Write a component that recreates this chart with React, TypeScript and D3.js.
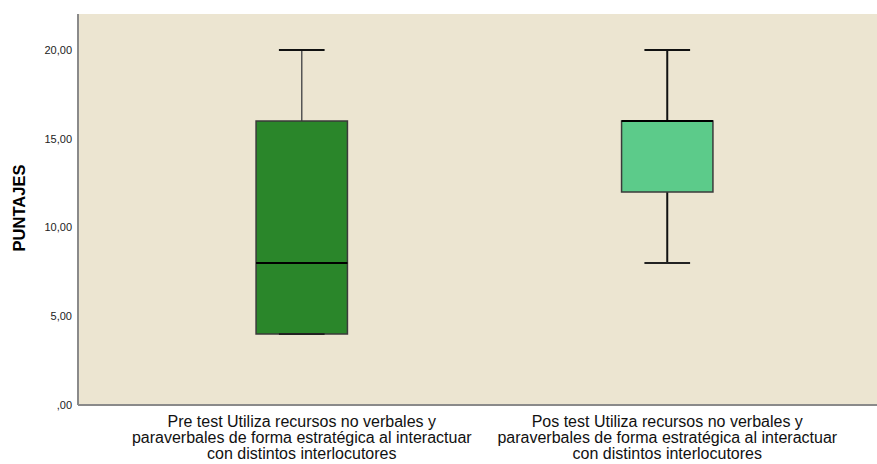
import React from 'react'
import * as d3 from 'd3'

// box plot stats
const categories = ['pre', 'pos']
const labels = [
  ['Pre test Utiliza recursos no verbales y', 'paraverbales de forma estratégica al interactuar', 'con distintos interlocutores'],
  ['Pos test Utiliza recursos no verbales y', 'paraverbales de forma estratégica al interactuar', 'con distintos interlocutores'],
]
const mins = [4, 8]
const q1s = [4, 12]
const medians = [8, 16]
const q3s = [16, 16]
const maxs = [20, 20]
const fills = ['#2a862a', '#5ccb8a']
const yTicks = [0, 5, 10, 15, 20]

const width = 877
const height = 464
const plot = { left: 78, top: 14, right: 877, bottom: 405 }

export default function App() {
  const y = d3.scaleLinear().domain([0, 20]).range([plot.bottom, 50])
  const x = d3.scaleBand().domain(categories).range([119, 850])
  const boxW = x.bandwidth() * 0.25
  const capW = boxW / 2
  const fmt = (v: number) => (v === 0 ? ',00' : d3.format('.2f')(v).replace('.', ','))

  return (
    <svg
      width={width}
      height={height}
      style={{ position: 'fixed', left: 0, top: 0, background: '#fff' }}
      fontFamily="'Liberation Sans', Arial, sans-serif"
    >
      <rect x={plot.left} y={plot.top} width={plot.right - plot.left} height={plot.bottom - plot.top} fill="#ece5d1" />
      <line x1={plot.left} x2={plot.left} y1={plot.top} y2={plot.bottom} stroke="#8a8a8a" strokeWidth={2} />
      <line x1={plot.left} x2={plot.right} y1={plot.bottom} y2={plot.bottom} stroke="#8a8a8a" strokeWidth={2} />

      {yTicks.map((t) => (
        <text key={t} x={72} y={y(t)} dy="0.35em" textAnchor="end" fontSize={11} fill="#222">
          {fmt(t)}
        </text>
      ))}
      <text
        transform={`translate(25,208) rotate(-90)`}
        textAnchor="middle"
        fontSize={16.5}
        fontWeight="bold"
        fill="#000"
      >
        PUNTAJES
      </text>

      {categories.map((c, i) => {
        const cx = (x(c) as number) + x.bandwidth() / 2
        const wStroke = i === 0 ? '#555' : '#111'
        return (
          <g key={c}>
            <line x1={cx} x2={cx} y1={y(maxs[i])} y2={y(q3s[i])} stroke={wStroke} strokeWidth={i === 0 ? 1.5 : 2} />
            <line x1={cx} x2={cx} y1={y(q1s[i])} y2={y(mins[i])} stroke={wStroke} strokeWidth={2} />
            <rect
              x={cx - boxW / 2}
              y={y(q3s[i])}
              width={boxW}
              height={y(q1s[i]) - y(q3s[i])}
              fill={fills[i]}
              stroke="#3a3a3a"
              strokeWidth={1.5}
            />
            <line x1={cx - boxW / 2} x2={cx + boxW / 2} y1={y(medians[i])} y2={y(medians[i])} stroke="#000" strokeWidth={2} />
            <line x1={cx - capW / 2} x2={cx + capW / 2} y1={y(maxs[i])} y2={y(maxs[i])} stroke="#111" strokeWidth={2} />
            <line x1={cx - capW / 2} x2={cx + capW / 2} y1={y(mins[i])} y2={y(mins[i])} stroke="#222" strokeWidth={2} />
            <text textAnchor="middle" fontSize={16} fill="#111">
              {labels[i].map((l, j) => (
                <tspan key={j} x={cx} y={427 + j * 16}>
                  {l}
                </tspan>
              ))}
            </text>
          </g>
        )
      })}
    </svg>
  )
}
